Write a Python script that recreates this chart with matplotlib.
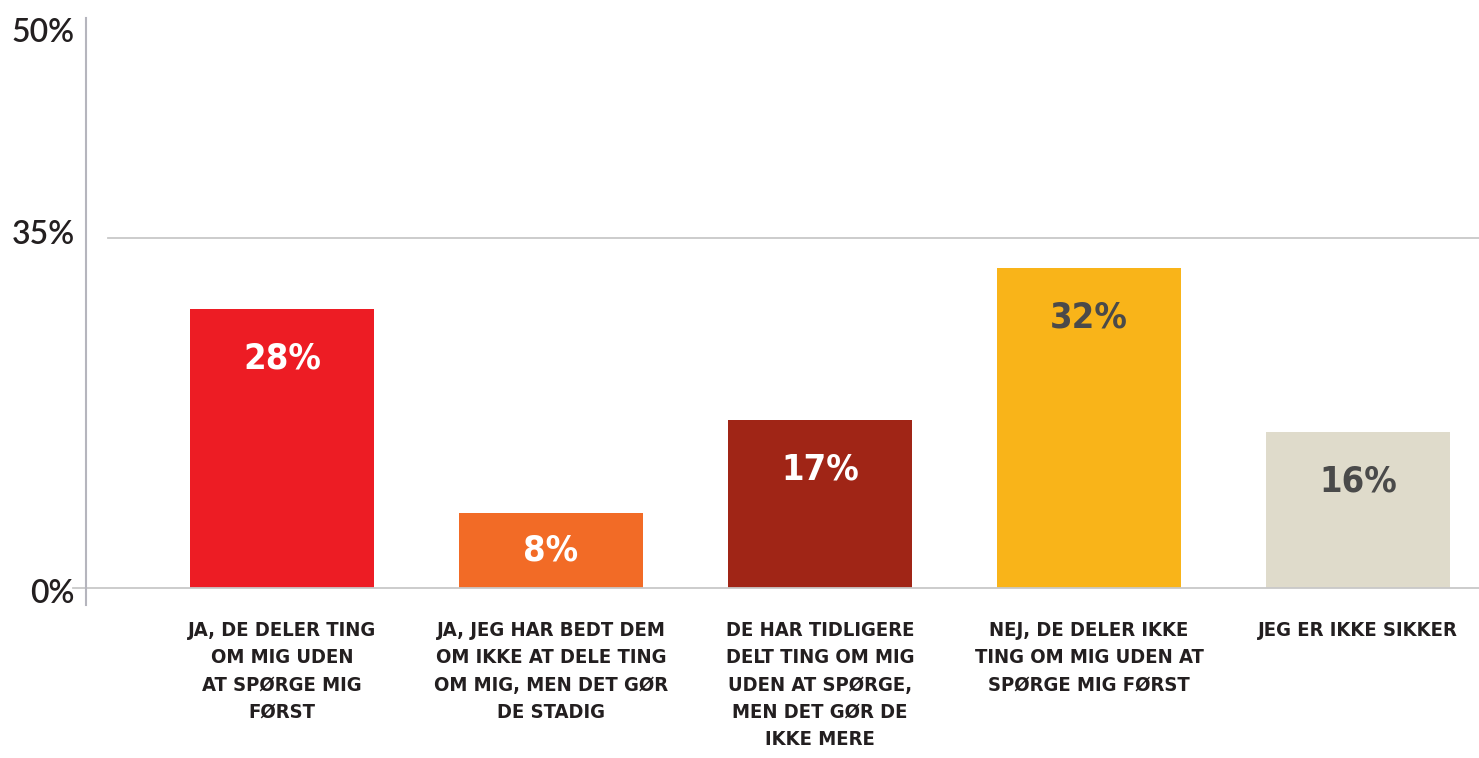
import matplotlib
matplotlib.use("Agg")
import matplotlib.pyplot as plt

categories = [
    "JA, DE DELER TING\nOM MIG UDEN\nAT SPØRGE MIG\nFØRST",
    "JA, JEG HAR BEDT DEM\nOM IKKE AT DELE TING\nOM MIG, MEN DET GØR\nDE STADIG",
    "DE HAR TIDLIGERE\nDELT TING OM MIG\nUDEN AT SPØRGE,\nMEN DET GØR DE\nIKKE MERE",
    "NEJ, DE DELER IKKE\nTING OM MIG UDEN AT\nSPØRGE MIG FØRST",
    "JEG ER IKKE SIKKER",
]
values = [27.9, 7.5, 16.8, 32.0, 15.6]
value_labels = ["28%", "8%", "17%", "32%", "16%"]
colors = ["#ED1C24", "#F26B26", "#A02516", "#F9B419", "#DFDBCB"]
label_colors = ["white", "white", "white", "#4a4a4a", "#4a4a4a"]
tick_values = [-0.3, 35.6, 55.8]
tick_labels = ["0%", "35%", "50%"]

W, H = 1479, 758
fig = plt.figure(figsize=(W / 100, H / 100), dpi=100)
ax_left, ax_right = 86, 1479
ax_bottom_px, ax_top_px = 591, 17.6
ax = fig.add_axes([ax_left / W, (H - ax_bottom_px) / H,
                   (ax_right - ax_left) / W, (ax_bottom_px - ax_top_px) / H])

x = list(range(len(values)))
ax.bar(x, values, width=0.684, color=colors, zorder=2)
ax.set_xlim((86 - 282) / 269, (1479 - 282) / 269)
ax.set_ylim(0, 57)

cond = dict(family="DejaVu Sans", stretch="condensed", weight="bold")
for xi, v, lab, lc in zip(x, values, value_labels, label_colors):
    ypos = max(v - 5, v / 2)
    ax.text(xi, ypos, lab, ha="center", va="center", color=lc, fontsize=26, **cond)

for xi, cat in zip(x, categories):
    ax.text(xi, -3.3, cat, ha="center", va="top", color="#231f20", fontsize=14.5,
            linespacing=1.55, **cond)

# grid line at 35%
ax.plot([(108 - 282) / 269, (1479 - 282) / 269], [35, 35], color="#c8c8c8", lw=1.3,
        zorder=1, clip_on=False)
# baseline
ax.plot([(73 - 282) / 269, (1479 - 282) / 269], [0, 0], color="#c8c8c8", lw=1.3,
        zorder=3, clip_on=False)
# vertical axis line
ax.plot([(86 - 282) / 269] * 2, [-1.7, 57], color="#b5b5bd", lw=1.5, zorder=3, clip_on=False)

for s in ax.spines.values():
    s.set_visible(False)
ax.set_xticks([])
ax.set_yticks(tick_values)
ax.set_yticklabels(tick_labels, family="Lato", fontsize=23, color="#231f20",
                   weight="semibold")
ax.tick_params(axis="y", length=0, pad=8)

fig.savefig("out.png", dpi=100)
